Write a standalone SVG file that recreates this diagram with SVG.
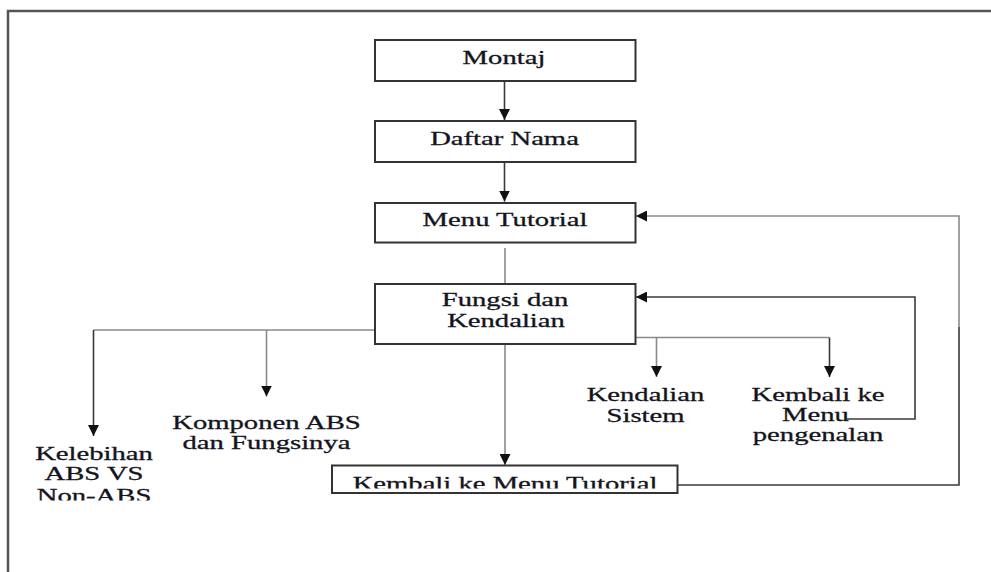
<svg xmlns="http://www.w3.org/2000/svg" width="991" height="572" viewBox="0 0 991 572">
  <defs>
    <style>
      .box { fill: #ffffff; stroke: #333333; stroke-width: 2; }
      .lbl { font-family: "Liberation Serif", "Times New Roman", serif; font-size: 19.5px; fill: #141420; stroke: #141420; stroke-width: 0.3; text-anchor: middle; }
      .wire { fill: none; stroke: #3a3a3a; stroke-width: 1.6; }
      .wire-lt { fill: none; stroke: #8a8a8a; stroke-width: 1.6; }
      .frame { fill: none; stroke: #555555; stroke-width: 2.5; }
    </style>
    <marker id="arrowhead" viewBox="0 0 10 10" refX="10" refY="5" markerUnits="userSpaceOnUse" markerWidth="11" markerHeight="11" orient="auto">
      <path d="M0,0 L10,5 L0,10 Z" fill="#111111"/>
    </marker>
    <clipPath id="clip-back">
      <rect x="332" y="466" width="345" height="22.5"/>
    </clipPath>
    <clipPath id="clip-versus">
      <rect x="20" y="440" width="150" height="60.5"/>
    </clipPath>
  </defs>

  <rect width="991" height="572" fill="#ffffff"/>

  <!-- page frame -->
  <path class="frame" d="M8,572 V11 H991"/>

  <!-- connectors -->
  <g id="connectors">
    <line class="wire" x1="504.5" y1="81" x2="504.5" y2="120" marker-end="url(#arrowhead)"/>
    <line class="wire" x1="504.5" y1="162" x2="504.5" y2="201.5" marker-end="url(#arrowhead)"/>
    <line class="wire-lt" x1="505" y1="248" x2="505" y2="284"/>
    <!-- left branches -->
    <polyline class="wire-lt" points="375,330 93.5,330"/>
    <line class="wire" x1="93.5" y1="330" x2="93.5" y2="436" marker-end="url(#arrowhead)"/>
    <line class="wire-lt" x1="266.5" y1="330" x2="266.5" y2="396.5" marker-end="url(#arrowhead)"/>
    <!-- right branches -->
    <polyline class="wire-lt" points="636,337.5 829.5,337.5"/>
    <line class="wire-lt" x1="656.5" y1="337.5" x2="656.5" y2="377" marker-end="url(#arrowhead)"/>
    <line class="wire" x1="829.5" y1="337.5" x2="829.5" y2="377" marker-end="url(#arrowhead)"/>
    <!-- down to return box -->
    <line class="wire-lt" x1="505" y1="344" x2="505" y2="465" marker-end="url(#arrowhead)"/>
    <!-- back to Fungsi dan Kendalian -->
    <polyline class="wire" points="847,419 915,419 915,297 636,297" marker-end="url(#arrowhead)"/>
    <!-- back to Menu Tutorial -->
    <polyline class="wire" points="678,485 959,485 959,327"/>
    <polyline class="wire-lt" points="959,327 959,216 636,216" marker-end="url(#arrowhead)"/>
  </g>

  <!-- nodes -->
  <g id="montaj">
    <rect class="box" x="375" y="40" width="260.5" height="41"/>
    <text class="lbl" transform="translate(504,64) scale(1.47,1)">Montaj</text>
  </g>

  <g id="daftar-nama">
    <rect class="box" x="375" y="121" width="260.5" height="41"/>
    <text class="lbl" transform="translate(504.5,145) scale(1.47,1)">Daftar Nama</text>
  </g>

  <g id="menu-tutorial">
    <rect class="box" x="375" y="203" width="260.5" height="39.5"/>
    <text class="lbl" transform="translate(505,225.5) scale(1.47,1)">Menu Tutorial</text>
  </g>

  <g id="fungsi-kendalian">
    <rect class="box" x="375" y="284" width="260.5" height="60"/>
    <text class="lbl" transform="translate(505,305.5) scale(1.47,1)">Fungsi dan</text>
    <text class="lbl" transform="translate(506,326.5) scale(1.47,1)">Kendalian</text>
  </g>

  <g id="kelebihan">
    <g clip-path="url(#clip-versus)">
      <text class="lbl" transform="translate(94,459.5) scale(1.47,1)">Kelebihan</text>
      <text class="lbl" transform="translate(94,480.3) scale(1.47,1)">ABS VS</text>
      <text class="lbl" transform="translate(94,501.5) scale(1.47,1)">Non-ABS</text>
    </g>
  </g>

  <g id="komponen">
    <text class="lbl" transform="translate(266.5,428.5) scale(1.47,1)">Komponen ABS</text>
    <text class="lbl" transform="translate(266.5,448.5) scale(1.47,1)">dan Fungsinya</text>
  </g>

  <g id="kendalian-sistem">
    <text class="lbl" transform="translate(645.5,400.7) scale(1.47,1)">Kendalian</text>
    <text class="lbl" transform="translate(645.5,421.5) scale(1.47,1)">Sistem</text>
  </g>

  <g id="kembali-pengenalan">
    <text class="lbl" transform="translate(818,400.7) scale(1.47,1)">Kembali ke</text>
    <text class="lbl" transform="translate(815.5,420.5) scale(1.47,1)">Menu</text>
    <text class="lbl" transform="translate(818,440.7) scale(1.47,1)">pengenalan</text>
  </g>

  <g id="kembali-tutorial">
    <rect class="box" x="332" y="465.5" width="345.5" height="27.5"/>
    <g clip-path="url(#clip-back)">
      <text class="lbl" transform="translate(505,489.5) scale(1.47,1)">Kembali ke Menu Tutorial</text>
    </g>
  </g>
</svg>
